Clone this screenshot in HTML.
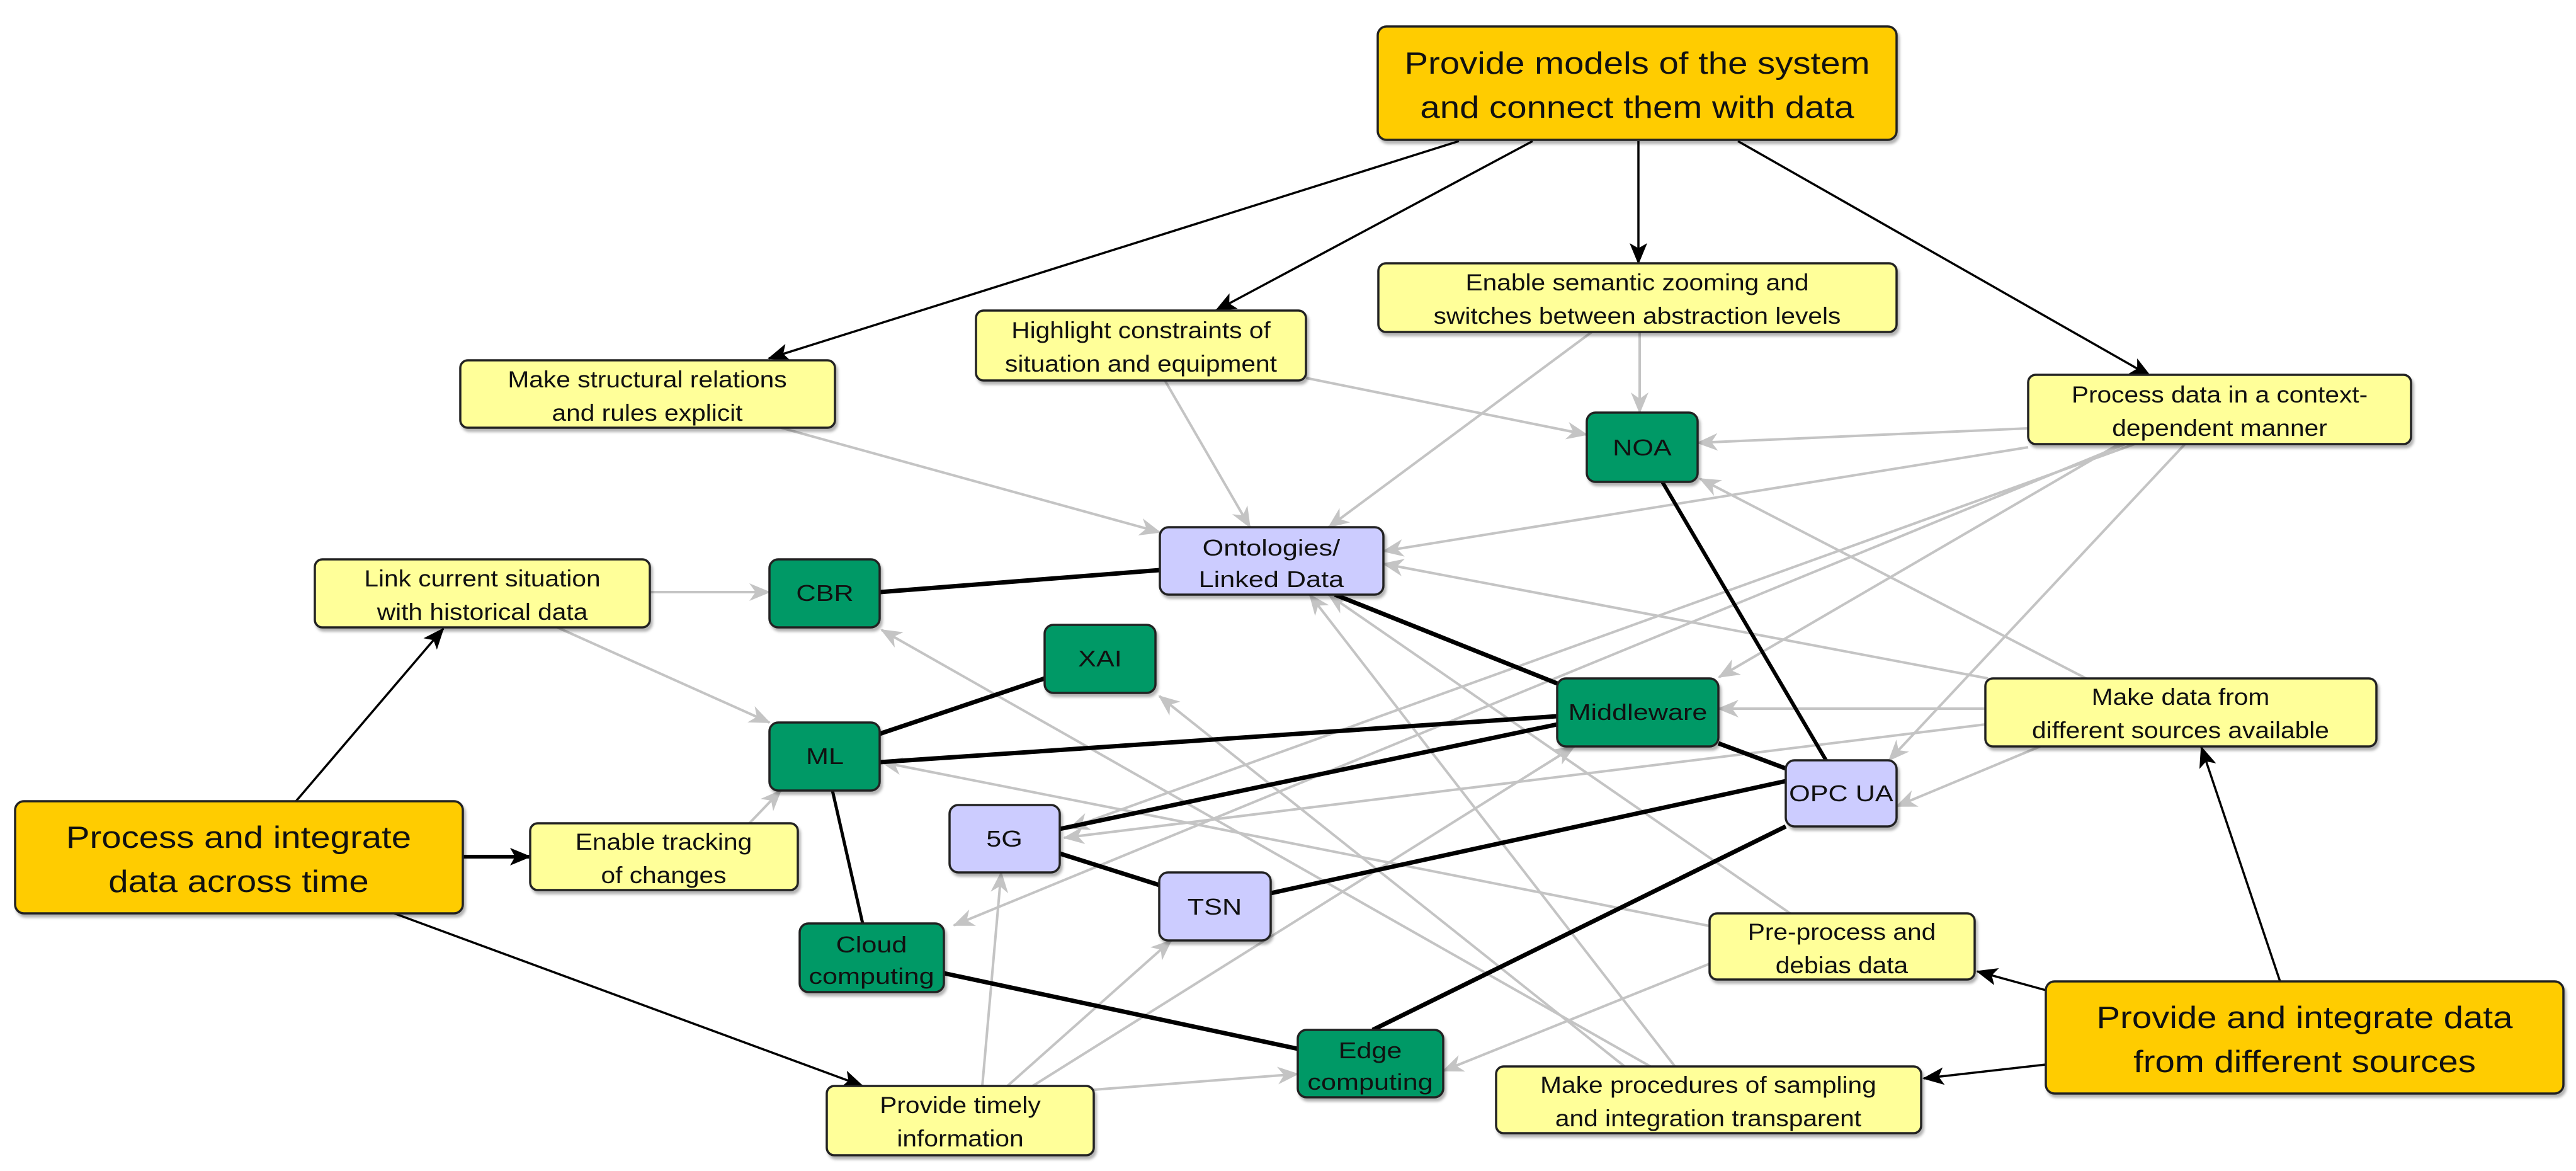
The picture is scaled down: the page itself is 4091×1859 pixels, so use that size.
<!DOCTYPE html>
<html><head><meta charset="utf-8"><style>
html,body{margin:0;padding:0;background:#fff;}
svg{display:block;}
text{font-family:"Liberation Sans",Arial,sans-serif;fill:#111;transform-box:fill-box;transform-origin:center;}
.s text{transform:scaleX(1.2);}
.y text{transform:scaleX(1.1);}
.b text{transform:scaleX(1.15);}
</style></head><body>
<svg width="4091" height="1859" viewBox="0 0 4091 1859" xmlns="http://www.w3.org/2000/svg">
<defs>
<marker id="ab" markerUnits="userSpaceOnUse" markerWidth="34" markerHeight="28" refX="32" refY="14" orient="auto"><path d="M0,0 L34,14 L0,28 L8,14 z" fill="#000"/></marker>
<marker id="ag" markerUnits="userSpaceOnUse" markerWidth="34" markerHeight="28" refX="32" refY="14" orient="auto"><path d="M0,0 L34,14 L0,28 L10,14 z" fill="#c4c4c4"/></marker>
<filter id="sh" x="-5%" y="-5%" width="110%" height="115%"><feDropShadow dx="3" dy="5" stdDeviation="2" flood-color="#000" flood-opacity="0.3"/></filter>
</defs>

<g stroke="#c4c4c4" stroke-width="4" fill="none" marker-end="url(#ag)">
<line x1="1240" y1="679" x2="1842" y2="845"/>
<line x1="1850" y1="604" x2="1985" y2="837"/>
<line x1="2074" y1="600" x2="2520" y2="690"/>
<line x1="2604" y1="527" x2="2604" y2="655"/>
<line x1="2528" y1="527" x2="2110" y2="837"/>
<line x1="3221" y1="680" x2="2696" y2="703"/>
<line x1="3221" y1="710" x2="2197" y2="875"/>
<line x1="3365" y1="705" x2="2730" y2="1075"/>
<line x1="3470" y1="705" x2="3000" y2="1207"/>
<line x1="3390" y1="705" x2="1698" y2="1315"/>
<line x1="3375" y1="705" x2="1515" y2="1469"/>
<line x1="3153" y1="1125" x2="2729" y2="1125"/>
<line x1="3240" y1="1185" x2="3012" y2="1280"/>
<line x1="3157" y1="1077" x2="2197" y2="895"/>
<line x1="3313" y1="1077" x2="2700" y2="760"/>
<line x1="3153" y1="1150" x2="1690" y2="1330"/>
<line x1="1032" y1="940" x2="1222" y2="940"/>
<line x1="885" y1="996" x2="1222" y2="1147"/>
<line x1="1190" y1="1307" x2="1240" y2="1255"/>
<line x1="1560" y1="1724" x2="1590" y2="1385"/>
<line x1="1600" y1="1724" x2="1860" y2="1493"/>
<line x1="1640" y1="1724" x2="2500" y2="1185"/>
<line x1="1737" y1="1730" x2="2061" y2="1705"/>
<line x1="2715" y1="1470" x2="1400" y2="1210"/>
<line x1="2715" y1="1530" x2="2292" y2="1700"/>
<line x1="2843" y1="1450" x2="2110" y2="944"/>
<line x1="2621" y1="1693" x2="1400" y2="1000"/>
<line x1="2660" y1="1693" x2="2080" y2="944"/>
<line x1="2580" y1="1693" x2="1841" y2="1105"/>
</g>

<g stroke="#000" stroke-width="7" fill="none">
<line x1="1397" y1="940" x2="1842" y2="905"/>
<line x1="2120" y1="944" x2="2473" y2="1085"/>
<line x1="2640" y1="765" x2="2900" y2="1207" stroke-width="6"/>
<line x1="1397" y1="1165" x2="1659" y2="1077"/>
<line x1="1397" y1="1210" x2="2473" y2="1137"/>
<line x1="1322" y1="1255" x2="1370" y2="1466" stroke-width="5"/>
<line x1="1683" y1="1316" x2="2473" y2="1150"/>
<line x1="1683" y1="1355" x2="1841" y2="1405"/>
<line x1="2018" y1="1418" x2="2836" y2="1240"/>
<line x1="2729" y1="1180" x2="2836" y2="1220"/>
<line x1="1499" y1="1545" x2="2061" y2="1665"/>
<line x1="2180" y1="1635" x2="2836" y2="1312"/>
</g>

<g stroke="#000" stroke-width="3.5" fill="none" marker-end="url(#ab)">
<line x1="2317" y1="224" x2="1221" y2="569"/>
<line x1="2434" y1="224" x2="1931" y2="493"/>
<line x1="2602" y1="224" x2="2602" y2="418"/>
<line x1="2760" y1="224" x2="3415" y2="597"/>
<line x1="470" y1="1272" x2="704" y2="998"/>
<line x1="735" y1="1360" x2="842" y2="1360" stroke-width="6"/>
<line x1="626" y1="1450" x2="1370" y2="1724"/>
<line x1="3621" y1="1558" x2="3496" y2="1186"/>
<line x1="3249" y1="1572" x2="3140" y2="1542"/>
<line x1="3249" y1="1690" x2="3055" y2="1712"/>
</g>

<g stroke="#222" stroke-width="3.5" filter="url(#sh)">
<rect x="2188" y="42" width="824" height="180" rx="14" fill="#ffcc00"/>
<rect x="24" y="1272" width="711" height="178" rx="14" fill="#ffcc00"/>
<rect x="3249" y="1558" width="822" height="178" rx="14" fill="#ffcc00"/>
<rect x="731" y="572" width="595" height="107" rx="12" fill="#ffff99"/>
<rect x="1550" y="493" width="524" height="111" rx="12" fill="#ffff99"/>
<rect x="2189" y="418" width="823" height="109" rx="12" fill="#ffff99"/>
<rect x="3221" y="595" width="608" height="110" rx="12" fill="#ffff99"/>
<rect x="500" y="888" width="532" height="108" rx="12" fill="#ffff99"/>
<rect x="842" y="1307" width="425" height="106" rx="12" fill="#ffff99"/>
<rect x="1313" y="1724" width="424" height="110" rx="12" fill="#ffff99"/>
<rect x="3153" y="1077" width="621" height="108" rx="12" fill="#ffff99"/>
<rect x="2715" y="1450" width="421" height="105" rx="12" fill="#ffff99"/>
<rect x="2376" y="1693" width="675" height="106" rx="12" fill="#ffff99"/>
<rect x="2520" y="655" width="176" height="110" rx="14" fill="#009966"/>
<rect x="1222" y="888" width="175" height="108" rx="14" fill="#009966"/>
<rect x="1659" y="992" width="176" height="108" rx="14" fill="#009966"/>
<rect x="1222" y="1147" width="175" height="108" rx="14" fill="#009966"/>
<rect x="1270" y="1466" width="229" height="109" rx="14" fill="#009966"/>
<rect x="2473" y="1077" width="256" height="108" rx="14" fill="#009966"/>
<rect x="2061" y="1635" width="231" height="107" rx="14" fill="#009966"/>
<rect x="1842" y="837" width="355" height="107" rx="14" fill="#ccccff"/>
<rect x="1508" y="1278" width="175" height="107" rx="14" fill="#ccccff"/>
<rect x="1841" y="1385" width="177" height="108" rx="14" fill="#ccccff"/>
<rect x="2836" y="1207" width="176" height="105" rx="14" fill="#ccccff"/>
</g>

<g text-anchor="middle">
<g class="b" font-size="49">
<text x="2600" y="117">Provide models of the system</text>
<text x="2600" y="187">and connect them with data</text>
<text x="379" y="1346">Process and integrate</text>
<text x="379" y="1416">data across time</text>
<text x="3660" y="1632">Provide and integrate data</text>
<text x="3660" y="1702">from different sources</text>
</g>
<g class="y" font-size="37">
<text x="1028" y="615">Make structural relations</text>
<text x="1028" y="668">and rules explicit</text>
<text x="1812" y="537">Highlight constraints of</text>
<text x="1812" y="590">situation and equipment</text>
<text x="2600" y="461">Enable semantic zooming and</text>
<text x="2600" y="514">switches between abstraction levels</text>
<text x="3525" y="639">Process data in a context-</text>
<text x="3525" y="692">dependent manner</text>
<text x="766" y="931">Link current situation</text>
<text x="766" y="984">with historical data</text>
<text x="1054" y="1349">Enable tracking</text>
<text x="1054" y="1402">of changes</text>
<text x="1525" y="1767">Provide timely</text>
<text x="1525" y="1820">information</text>
<text x="3463" y="1119">Make data from</text>
<text x="3463" y="1172">different sources available</text>
<text x="2925" y="1492">Pre-process and</text>
<text x="2925" y="1545">debias data</text>
<text x="2713" y="1735">Make procedures of sampling</text>
<text x="2713" y="1788">and integration transparent</text>
</g>
<g class="s" font-size="36">
<text x="2608" y="723">NOA</text>
<text x="1310" y="954">CBR</text>
<text x="1747" y="1058">XAI</text>
<text x="1310" y="1213">ML</text>
<text x="1384" y="1512">Cloud</text>
<text x="1384" y="1562">computing</text>
<text x="2601" y="1143">Middleware</text>
<text x="2176" y="1680">Edge</text>
<text x="2176" y="1730">computing</text>
<text x="2019" y="882">Ontologies/</text>
<text x="2019" y="932">Linked Data</text>
<text x="1595" y="1344">5G</text>
<text x="1929" y="1452">TSN</text>
<text x="2924" y="1272">OPC UA</text>
</g>
</g>
</svg>
</body></html>
